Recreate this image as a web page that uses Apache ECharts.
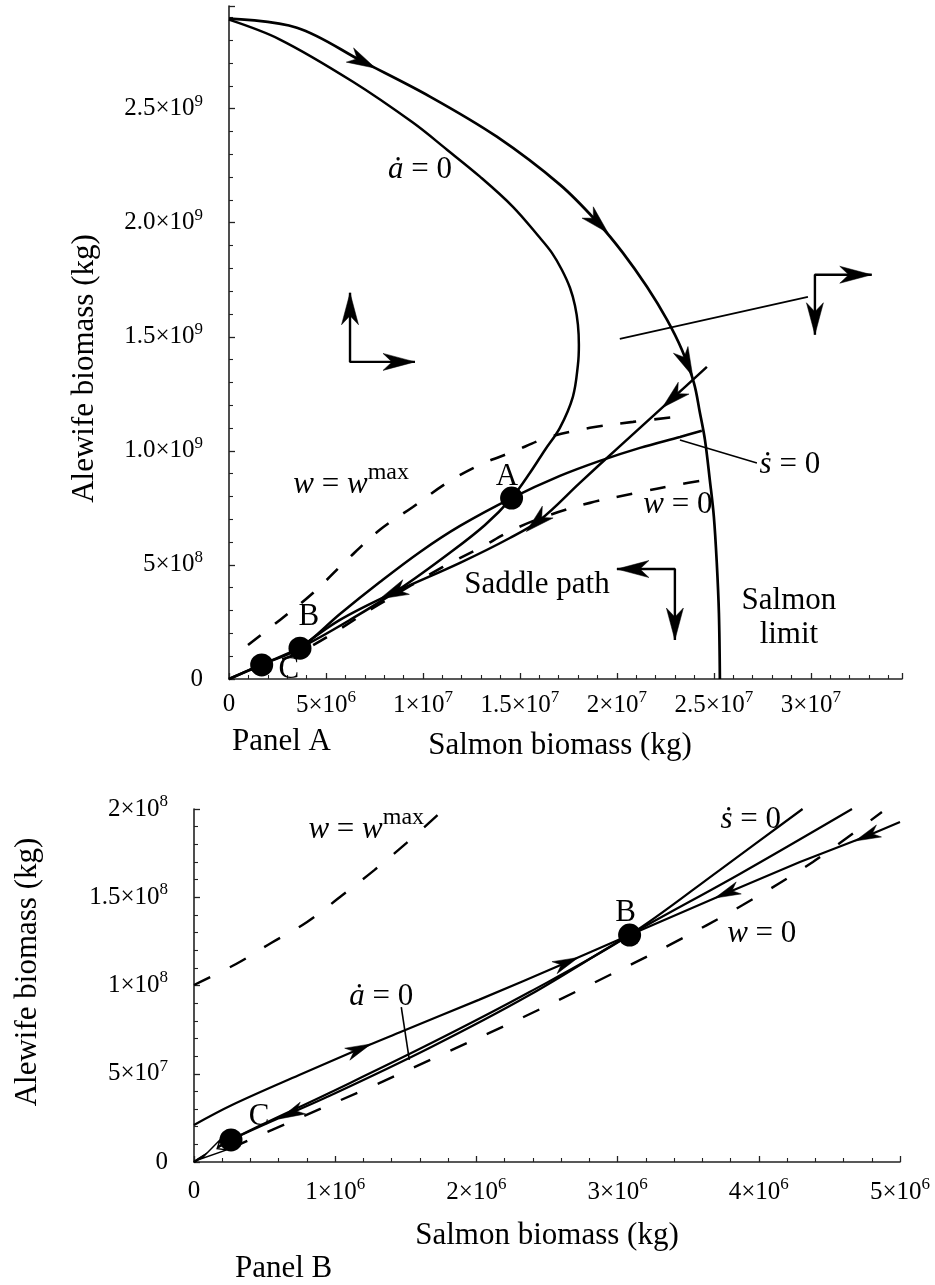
<!DOCTYPE html>
<html><head><meta charset="utf-8">
<script src="https://cdn.jsdelivr.net/npm/echarts@6/dist/echarts.min.js"></script>
<style>html,body{margin:0;padding:0;background:#fff}#c{width:935px;height:1285px}</style>
</head><body><div id="c"></div>
<script>
// ---------------- DATA (kg) ----------------
// Panel A
const xTickLabelsA = ['0','5×10^6','1×10^7','1.5×10^7','2×10^7','2.5×10^7','3×10^7'];
const yTickLabelsA = ['0','5×10^8','1.0×10^9','1.5×10^9','2.0×10^9','2.5×10^9'];
const salmonLimitA = [[0,2.895e9],[3.5e6,2.855e9],[6.9e6,2.706e9],[1.036e7,2.553e9],[1.381e7,2.377e9],[1.706e7,2.167e9],[1.902e7,2.0e9],[2.031e7,1.868e9],[2.155e7,1.719e9],[2.258e7,1.575e9],[2.335e7,1.443e9],[2.397e7,1.298e9],[2.428e7,1.167e9],[2.454e7,1.048e9],[2.479e7,8.73e8],[2.5e7,7.11e8],[2.515e7,5.09e8],[2.526e7,2.89e8],[2.531e7,0]];
const aDotZeroA = [[0,0],[1.7e6,6.4e7],[3.66e6,1.36e8],[6.24e6,2.59e8],[8.81e6,3.95e8],[1.139e7,5.53e8],[1.32e7,6.75e8],[1.457e7,7.93e8],[1.552e7,9.04e8],[1.629e7,1.004e9],[1.706e7,1.101e9],[1.773e7,1.237e9],[1.799e7,1.377e9],[1.804e7,1.465e9],[1.799e7,1.553e9],[1.784e7,1.636e9],[1.758e7,1.715e9],[1.716e7,1.794e9],[1.665e7,1.868e9],[1.603e7,1.934e9],[1.464e7,2.07e9],[1.294e7,2.202e9],[1.124e7,2.32e9],[9.48e6,2.439e9],[6.39e6,2.618e9],[2.63e6,2.803e9],[0,2.89e9]];
const sDotZeroA = [[0,0],[1.7e6,6.3e7],[3.66e6,1.36e8],[5.72e6,2.85e8],[7.78e6,4.25e8],[9.85e6,5.57e8],[1.191e7,6.71e8],[1.457e7,7.93e8],[1.706e7,8.9e8],[1.912e7,9.56e8],[2.119e7,1.013e9],[2.325e7,1.061e9],[2.438e7,1.088e9]];
const saddleA = [[2.464e7,1.368e9],[2.289e7,1.232e9],[2.0e7,1.009e9],[1.809e7,8.6e8],[1.603e7,6.97e8],[1.448e7,6.18e8],[1.191e7,5.09e8],[8.45e6,3.77e8],[5.72e6,2.59e8],[3.66e6,1.36e8]];
const wZeroA = [[1.08e6,3.9e7],[3.66e6,1.18e8],[7.78e6,3.29e8],[1.103e7,4.91e8],[1.294e7,5.75e8],[1.464e7,6.54e8],[1.639e7,7.15e8],[1.861e7,7.72e8],[2.103e7,8.16e8],[2.309e7,8.51e8],[2.464e7,8.73e8]];
const wMaxA = [[9.8e5,1.49e8],[2.63e6,2.59e8],[4.33e6,3.77e8],[6.08e6,5.22e8],[7.78e6,6.54e8],[9.48e6,7.54e8],[1.124e7,8.6e8],[1.294e7,9.39e8],[1.464e7,9.96e8],[1.639e7,1.057e9],[1.861e7,1.101e9],[2.083e7,1.127e9],[2.361e7,1.154e9]];
const steadyA = [[1.457e7,7.93e8],[3.66e6,1.35e8],[1.685e6,6.14e7]];
// phase-direction crosses: [end1, corner, end2]
const phaseArrowsA = [
  [[6.24e6,1.693e9],[6.24e6,1.39e9],[9.59e6,1.39e9]],
  [[3.021e7,1.509e9],[3.021e7,1.772e9],[3.314e7,1.772e9]],
  [[2.0e7,4.82e8],[2.299e7,4.82e8],[2.299e7,1.71e8]]
];
// arrowheads on trajectories: [x, y, fromX, fromY]
const flowArrowsA = [
  [6.9e6,2.706e9,3.5e6,2.855e9],[1.902e7,2.0e9,1.706e7,2.167e9],[2.36e7,1.385e9,2.258e7,1.575e9],
  [2.289e7,1.232e9,2.464e7,1.368e9],[1.588e7,6.89e8,1.809e7,8.6e8],[8.45e6,3.77e8,1.191e7,5.09e8]
];
const leadersA = [[[2.722e7,9.47e8],[2.325e7,1.048e9]],[[2.985e7,1.675e9],[2.015e7,1.491e9]]];

// Panel B
const xTickLabelsB = ['0','1×10^6','2×10^6','3×10^6','4×10^6','5×10^6'];
const yTickLabelsB = ['0','5×10^7','1×10^8','1.5×10^8','2×10^8'];
const wMaxB = [[0,1.003e8],[2.98e5,1.122e8],[5.46e5,1.241e8],[8.01e5,1.36e8],[1.043e6,1.507e8],[1.277e6,1.654e8],[1.504e6,1.807e8],[1.773e6,2.0e8]];
const upperPathB = [[0,2.1e7],[2.69e5,3.23e7],[7.45e5,4.93e7],[1.17e6,6.4e7],[1.454e6,7.34e7],[2.021e6,9.2e7],[2.638e6,1.13e8],[3.085e6,1.286e8]];
const sDotZeroB = [[0,0],[2.62e5,1.25e7],[9.65e5,3.94e7],[1.674e6,6.71e7],[2.376e6,9.63e7],[3.085e6,1.286e8],[3.723e6,1.654e8],[4.31e6,2.0e8]];
const aDotZeroB = [[0,0],[2.62e5,1.25e7],[9.65e5,3.77e7],[1.674e6,6.49e7],[2.376e6,9.46e7],[3.085e6,1.286e8],[3.865e6,1.632e8],[4.66e6,2.0e8]];
const saddleB = [[3.085e6,1.286e8],[3.773e6,1.524e8],[4.291e6,1.70e8],[4.766e6,1.847e8],[5.0e6,1.926e8]];
const wZeroB = [[2.62e5,7.9e6],[6.81e5,2.27e7],[1.234e6,4.19e7],[1.78e6,6.18e7],[2.319e6,8.16e7],[2.844e6,1.02e8],[3.369e6,1.23e8],[3.886e6,1.456e8],[4.383e6,1.70e8],[4.872e6,1.983e8]];
const steadyB = [[3.085e6,1.286e8],[2.62e5,1.25e7]];
const flowArrowsB = [
  [1.17e6,6.4e7,7.45e5,4.93e7],[2.638e6,1.13e8,2.021e6,9.2e7],
  [4.766e6,1.847e8,5.0e6,1.926e8],[3.773e6,1.524e8,4.291e6,1.70e8],
  [6.88e5,2.75e7,9.65e5,3.77e7]
];
const hollowArrowsB = [[1.3e5,5.8e6,2.62e5,1.25e7]];
const leadersB = [[[1.468e6,8.78e7],[1.525e6,5.78e7]]];

// ---------------- LAYOUT / STYLE ----------------
const FONT = '"Liberation Serif","Times New Roman",serif';
const INK = '#000';
const TICK_RICH = {
  m: {fontFamily: FONT, fontSize: 25, color: INK, lineHeight: 31},
  s: {fontFamily: FONT, fontSize: 17, color: INK, padding: [0, 0, 15, 0]}
};
const ANN_RICH = {
  i: {fontFamily: FONT, fontSize: 31, fontStyle: 'italic', color: INK},
  n: {fontFamily: FONT, fontSize: 31, color: INK},
  sup: {fontFamily: FONT, fontSize: 24, color: INK, padding: [0, 0, 24, 0]},
  two: {fontFamily: FONT, fontSize: 31, color: INK, lineHeight: 34, align: 'center'}
};
const annotationsA = [
  {at: [9.85e6, 2.232e9], text: '{i|ȧ}{n| = 0}'},
  {at: [2.892e7, 9.39e8], text: '{i|ṡ}{n| = 0}'},
  {at: [2.314e7, 7.63e8], text: '{i|w}{n| = 0}'},
  {at: [6.3e6, 8.51e8], text: '{i|w}{n| = }{i|w}{sup|max}'},
  {at: [1.588e7, 4.12e8], text: '{n|Saddle path}'},
  {at: [2.887e7, 2.67e8], text: '{two|Salmon}\n{two|limit}'},
  {at: [1.433e7, 8.86e8], text: '{n|A}'},
  {at: [4.12e6, 2.72e8], text: '{n|B}'},
  {at: [3.09e6, 3.9e7], text: '{n|C}'}
];
const annotationsB = [
  {at: [1.22e6, 1.881e8], text: '{i|w}{n| = }{i|w}{sup|max}'},
  {at: [3.943e6, 1.938e8], text: '{i|ṡ}{n| = 0}'},
  {at: [3.057e6, 1.411e8], text: '{n|B}'},
  {at: [4.021e6, 1.292e8], text: '{i|w}{n| = 0}'},
  {at: [1.326e6, 9.35e7], text: '{i|ȧ}{n| = 0}'},
  {at: [4.61e5, 2.55e7], text: '{n|C}'}
];

function toRich(s) {
  const parts = s.split('^');
  return parts.length === 1 ? '{m|' + parts[0] + '}' : '{m|' + parts[0] + '}{s|' + parts[1] + '}';
}
function tickFormatter(labels, interval) {
  return function (v) {
    const k = Math.round(v / interval);
    if (Math.abs(v - k * interval) > interval * 1e-6 || k < 0 || k >= labels.length) return '';
    return toRich(labels[k]);
  };
}
function axis(gridIndex, max, interval, labels, isX, nameGap, namePad, margin) {
  return {
    type: 'value', gridIndex, min: 0, max, interval,
    axisLine: {show: true, onZero: false, lineStyle: {color: '#222', width: 1.6}},
    axisTick: {show: true, inside: true, length: 6, lineStyle: {color: '#222', width: 1.3}},
    minorTick: {show: true, splitNumber: 5, length: 4, lineStyle: {color: '#222', width: 1.1}},
    splitLine: {show: false}, minorSplitLine: {show: false},
    axisLabel: {margin, formatter: tickFormatter(labels, interval), rich: TICK_RICH, showMaxLabel: true, hideOverlap: false},
    name: isX ? 'Salmon biomass (kg)' : 'Alewife biomass (kg)',
    nameLocation: 'middle', nameGap, nameRotate: isX ? 0 : 90,
    nameTextStyle: {fontFamily: FONT, fontSize: 31, color: INK, padding: namePad}
  };
}
function curve(idx, data, opt) {
  opt = opt || {};
  return {
    type: 'line', xAxisIndex: idx, yAxisIndex: idx, data, symbol: 'none', showSymbol: false,
    smooth: opt.smooth === undefined ? 0.35 : opt.smooth, silent: true, z: opt.z || 3, clip: false,
    lineStyle: {color: INK, width: opt.width || 2.5, type: opt.dash || 'solid', cap: 'butt', opacity: 1}
  };
}
function arrowHeads(idx, data, len, wid, hollow) {
  return {
    type: 'custom', xAxisIndex: idx, yAxisIndex: idx, data, silent: true, z: 6, clip: false,
    encode: {x: 0, y: 1},
    renderItem: function (params, api) {
      const p = api.coord([api.value(0), api.value(1)]);
      const q = api.coord([api.value(2), api.value(3)]);
      const tipMode = api.value(4) === 1;
      let dx = p[0] - q[0], dy = p[1] - q[1];
      const d = Math.hypot(dx, dy) || 1; dx /= d; dy /= d;
      const tip = tipMode ? p : [p[0] + dx * len / 2, p[1] + dy * len / 2];
      const bx = tip[0] - dx * len, by = tip[1] - dy * len;
      const nx = -dy, ny = dx;
      const notch = [tip[0] - dx * len * 0.72, tip[1] - dy * len * 0.72];
      return {
        type: 'polygon',
        shape: {points: [tip, [bx + nx * wid / 2, by + ny * wid / 2], notch, [bx - nx * wid / 2, by - ny * wid / 2]]},
        style: hollow ? {fill: '#fff', stroke: INK, lineWidth: 1.5} : {fill: INK, stroke: INK, lineWidth: 0.5}
      };
    }
  };
}
function dots(idx, data, size) {
  return {type: 'scatter', xAxisIndex: idx, yAxisIndex: idx, data, symbol: 'circle', symbolSize: size,
    itemStyle: {color: INK, opacity: 1}, silent: true, z: 7, clip: false};
}
function labels(idx, items) {
  return {
    type: 'scatter', xAxisIndex: idx, yAxisIndex: idx, symbolSize: 1, silent: true, z: 8, clip: false,
    itemStyle: {color: 'rgba(0,0,0,0)', opacity: 1},
    label: {show: true, position: 'inside', rich: ANN_RICH, color: INK, opacity: 1},
    data: items.map(function (it) { return {value: it.at, label: {formatter: it.text}}; })
  };
}

const series = [
  curve(0, salmonLimitA, {width: 2.7}),
  curve(0, aDotZeroA, {width: 2.5}),
  curve(0, sDotZeroA, {width: 2.5}),
  curve(0, saddleA, {width: 2.5}),
  curve(0, wZeroA, {width: 2.6, dash: [16, 18]}),
  curve(0, wMaxA, {width: 2.6, dash: [16, 18]}),
  curve(1, wMaxB, {width: 2.4, dash: [18, 22]}),
  curve(1, upperPathB, {width: 2.2}),
  curve(1, sDotZeroB, {width: 2.2}),
  curve(1, aDotZeroB, {width: 2.2}),
  curve(1, saddleB, {width: 2.2, smooth: 0}),
  curve(1, wZeroB, {width: 2.4, dash: [18, 22]})
];
leadersA.forEach(function (l) { series.push(curve(0, l, {width: 1.6, smooth: 0})); });
leadersB.forEach(function (l) { series.push(curve(1, l, {width: 1.6, smooth: 0})); });
const shaftHeads = [];
phaseArrowsA.forEach(function (a) {
  series.push(curve(0, a, {width: 2.4, smooth: 0}));
  shaftHeads.push([a[0][0], a[0][1], a[1][0], a[1][1], 1]);
  shaftHeads.push([a[2][0], a[2][1], a[1][0], a[1][1], 1]);
});
series.push(arrowHeads(0, shaftHeads, 32, 17));
series.push(arrowHeads(0, flowArrowsA.map(function (a) { return a.concat([0]); }), 29, 16));
series.push(arrowHeads(1, flowArrowsB.map(function (a) { return a.concat([0]); }), 26, 13));
series.push(arrowHeads(1, hollowArrowsB.map(function (a) { return a.concat([0]); }), 26, 12, true));
series.push(dots(0, steadyA, 23));
series.push(dots(1, steadyB, 23));
series.push(labels(0, annotationsA));
series.push(labels(1, annotationsB));

const chart = echarts.init(document.getElementById('c'), null, {renderer: 'canvas'});
chart.setOption({
  animation: false,
  backgroundColor: '#fff',
  title: [
    {text: 'Panel A', left: 232, top: 726, padding: 0, textStyle: {fontFamily: FONT, fontSize: 31, fontWeight: 'normal', color: INK}},
    {text: 'Panel B', left: 235, top: 1253, padding: 0, textStyle: {fontFamily: FONT, fontSize: 31, fontWeight: 'normal', color: INK}}
  ],
  grid: [
    {left: 229, top: 6, width: 673, height: 673},
    {left: 194, top: 809, width: 706, height: 353}
  ],
  xAxis: [
    axis(0, 3.47e7, 5e6, xTickLabelsA, true, 51, [0, 11, 0, 0], 10),
    axis(1, 5e6, 1e6, xTickLabelsB, true, 58, 0, 14)
  ],
  yAxis: [
    axis(0, 2.95e9, 5e8, yTickLabelsA, false, 129, [0, 52, 0, 0], 26),
    axis(1, 2e8, 5e7, yTickLabelsB, false, 151, [0, 0, 0, 27], 26)
  ],
  series
});
</script></body></html>
